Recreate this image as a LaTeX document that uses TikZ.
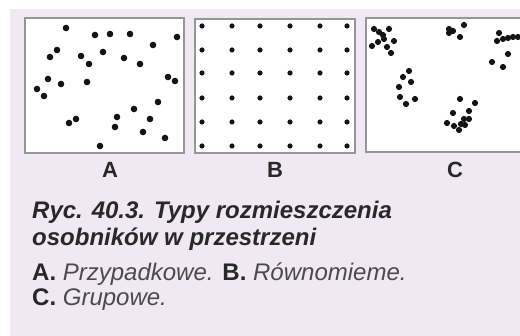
\documentclass[tikz,border=0pt]{standalone}
\usepackage{fontspec}
\setmainfont{Liberation Sans}
\definecolor{lav}{RGB}{240,232,243}
\definecolor{frame}{RGB}{150,150,150}
\definecolor{dotc}{RGB}{20,20,20}
\definecolor{capc}{RGB}{40,40,40}
\definecolor{descc}{RGB}{75,75,75}
\begin{document}
\begin{tikzpicture}[x=1pt,y=-1pt,
  panel/.style={draw=frame,line width=1.2pt,fill=white},
  lbl/.style={font=\fontsize{22}{26}\selectfont\bfseries,text=capc,inner sep=0pt,anchor=base},
  capline/.style={font=\fontsize{24}{28}\selectfont\bfseries\itshape,text=capc,inner sep=0pt,anchor=base west},
  descline/.style={font=\fontsize{24}{28}\selectfont\itshape,text=descc,inner sep=0pt,anchor=base west}]
\useasboundingbox (0,0) rectangle (520,336);
\fill[white] (0,0) rectangle (520,336);
\fill[lav] (10,9) rectangle (520,336);
\begin{scope}
\clip (0,0) rectangle (520,336);
\draw[panel] (25,18) rectangle (184,153);
\draw[panel] (195,19) rectangle (355,153);
\draw[panel] (366,18) rectangle (530,152);
\end{scope}
% Panel A: random
\foreach \x/\y in {66/28,95/35,110/34,130/34,177/37,153/45,57/50,50/57,81/56,103/52,124/58,89/64,140/64,48/79,61/84,87/82,168/77,175/81,37/89,44/96,158/102,134/109,117/117,150/119,115/127,76/119,69/123,143/132,165/138,100/146}
  \fill[dotc] (\x,\y) circle (3.3);
% Panel B: uniform
\foreach \x in {202,232,260,290,320,347}
  \foreach \y in {26,50,73,98,122,146}
    \fill[dotc] (\x,\y) circle (2.6);
% Panel C: clumped
\foreach \x/\y in {374/29,389/29,379/32,383/35,378/42,384/39,372/46,394/41,387/47,391/53,
  409/71,403/77,411/82,399/87,400/97,406/104,415/99,
  464/25,449/29,449/33,453/31,460/37,
  499/33,497/41,503/39,508/38,513/37,518/37,508/54,492/62,503/67,
  460/99,475/103,453/113,469/111,464/119,469/119,447/123,454/126,461/124,459/130,465/125}
  \fill[dotc] (\x,\y) circle (3.1);
\node[lbl] (la) at (110,178) {A};
\node[lbl] (lb) at (275,178) {B};
\node[lbl] (lc) at (455,178) {C};
\node[capline] (c1) at (32,219) {Ryc. 40.3. Typy rozmieszczenia};
\node[capline] (c2) at (32,246) {osobników w przestrzeni};
\node[descline] (d1) at (32,281) {\textbf{\upshape\color{capc}A.} Przypadkowe. \textbf{\upshape\color{capc}B.} Równomieme.};
\node[descline] (d2) at (32,306) {\textbf{\upshape\color{capc}C.} Grupowe.};
\end{tikzpicture}
\end{document}
